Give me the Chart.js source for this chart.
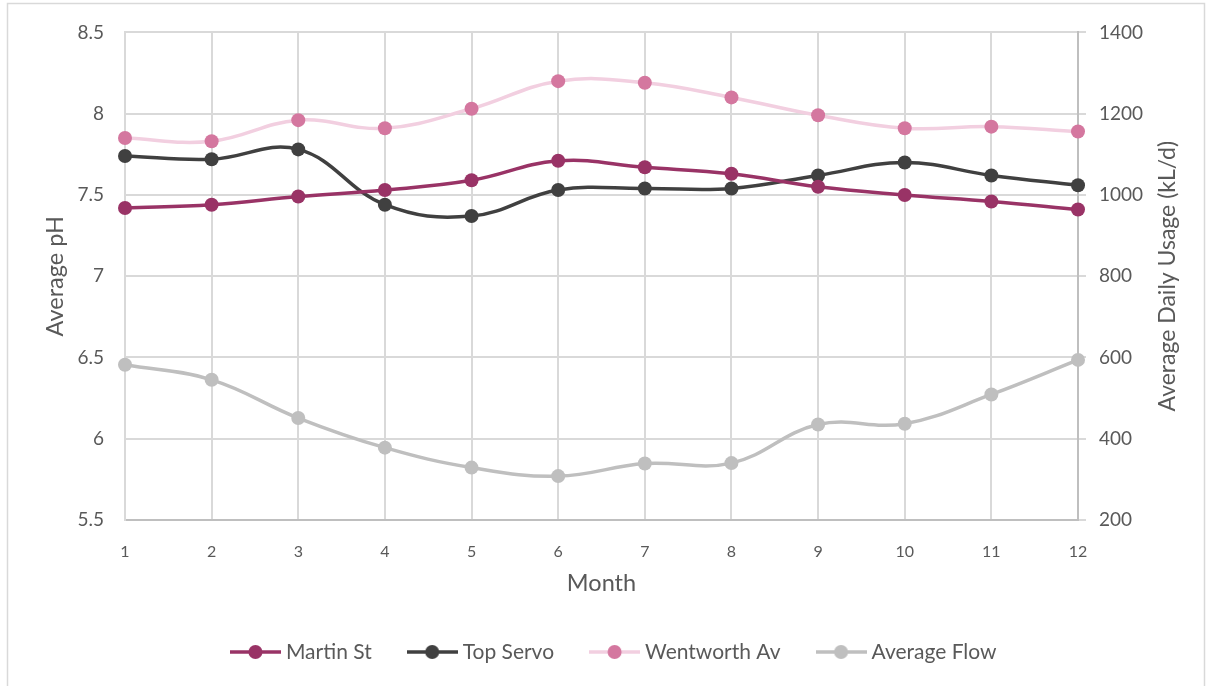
<!DOCTYPE html>
<html>
<head>
<meta charset="utf-8">
<script src="https://cdn.jsdelivr.net/npm/chart.js@4/dist/chart.umd.min.js"></script>
<style>
  html, body { margin: 0; padding: 0; background: #ffffff; }
  #wrap { position: relative; width: 1206px; height: 686px; }
</style>
</head>
<body>
<div id="wrap"><canvas id="chart" width="1206" height="686"></canvas></div>
<script>
// Monthly water quality and usage
const months = ['1', '2', '3', '4', '5', '6', '7', '8', '9', '10', '11', '12'];
const martinSt    = [7.42, 7.44, 7.49, 7.53, 7.59, 7.71, 7.67, 7.63, 7.55, 7.50, 7.46, 7.41];
const topServo    = [7.74, 7.72, 7.78, 7.44, 7.37, 7.53, 7.54, 7.54, 7.62, 7.70, 7.62, 7.56];
const wentworthAv = [7.85, 7.83, 7.96, 7.91, 8.03, 8.20, 8.19, 8.10, 7.99, 7.91, 7.92, 7.89];
const averageFlow = [582, 545, 451, 378, 329, 308, 339, 340, 435, 437, 509, 594];

// Axis ranges
const phRange   = [5.5, 8.5];
const phStep    = 0.5;
const flowRange = [200, 1400];
const flowStep  = 200;

const FONT = 'Lato';
const TEXT = '#595959';
const GRID = '#d9d9d9';
const AXIS = '#bfbfbf';

// Legend swatch: a short line with a dot in the middle
function swatch(lineColor, dotColor) {
  const c = document.createElement('canvas');
  c.width = 51; c.height = 16;
  const g = c.getContext('2d');
  g.strokeStyle = lineColor; g.lineWidth = 3.5;
  g.beginPath(); g.moveTo(0, 8); g.lineTo(51, 8); g.stroke();
  g.fillStyle = dotColor;
  g.beginPath(); g.arc(25.5, 8, 7, 0, Math.PI * 2); g.fill();
  return c;
}

const styles = [
  { line: '#993366', dot: '#993366' },
  { line: '#404040', dot: '#404040' },
  { line: '#f2cfe0', dot: '#d4779f' },
  { line: '#bfbfbf', dot: '#bfbfbf' }
];
const swatches = styles.map(s => swatch(s.line, s.dot));

function series(label, data, style, axis) {
  return {
    label, data, yAxisID: axis,
    borderColor: style.line, backgroundColor: style.dot,
    pointBackgroundColor: style.dot, pointBorderWidth: 0,
    pointRadius: 7, pointHoverRadius: 7, pointStyle: 'circle',
    borderWidth: 3.5, tension: 0.4, fill: false
  };
}

// Fixed legend band height
const legendBand = {
  id: 'legendBand',
  beforeInit(chart) {
    const fit = chart.legend.fit;
    chart.legend.fit = function () { fit.call(this); this.height = 85; };
  }
};

// Outer frame and the right-hand axis title (reads bottom to top)
const decorations = {
  id: 'decorations',
  afterDraw(chart) {
    const ctx = chart.ctx;
    const area = chart.chartArea;
    ctx.save();
    ctx.strokeStyle = GRID; ctx.lineWidth = 1.5;
    ctx.strokeRect(7.5, 3.5, 1197, 700);
    ctx.translate(1168, (area.top + area.bottom) / 2);
    ctx.rotate(-Math.PI / 2);
    ctx.fillStyle = TEXT;
    ctx.font = `23px ${FONT}`;
    ctx.textAlign = 'center';
    ctx.textBaseline = 'middle';
    ctx.fillText('Average Daily Usage (kL/d)', 0, 0);
    ctx.restore();
  }
};

new Chart(document.getElementById('chart'), {
  type: 'line',
  data: {
    labels: months,
    datasets: [
      series('Martin St', martinSt, styles[0], 'y'),
      series('Top Servo', topServo, styles[1], 'y'),
      series('Wentworth Av', wentworthAv, styles[2], 'y'),
      series('Average Flow', averageFlow, styles[3], 'y1')
    ]
  },
  options: {
    responsive: false,
    animation: false,
    devicePixelRatio: 1,
    layout: { padding: { top: 31, left: 26, right: 0, bottom: 0 } },
    plugins: {
      tooltip: { enabled: false },
      legend: {
        position: 'bottom',
        labels: {
          usePointStyle: true,
          pointStyleWidth: 40,
          boxHeight: 16,
          padding: 40.5,
          color: TEXT,
          font: { family: FONT, size: 21 },
          generateLabels(chart) {
            const items = Chart.defaults.plugins.legend.labels.generateLabels(chart);
            items.forEach((it, i) => { it.pointStyle = swatches[i]; it.lineWidth = 0; });
            return items;
          }
        }
      }
    },
    scales: {
      x: {
        type: 'category',
        offset: false,
        grid: { color: GRID, lineWidth: 2, drawTicks: false },
        border: { color: AXIS, width: 2 },
        ticks: { color: TEXT, font: { family: FONT, size: 16 }, padding: 22, maxRotation: 0 },
        title: { display: true, text: 'Month', color: TEXT, font: { family: FONT, size: 23.5 }, padding: { top: 0, bottom: 3 } },
        afterFit(s) { s.height = 81; }
      },
      y: {
        position: 'left',
        min: phRange[0], max: phRange[1],
        grid: { color: GRID, lineWidth: 2, drawTicks: false },
        border: { color: GRID, width: 2 },
        ticks: {
          stepSize: phStep, color: TEXT, font: { family: FONT, size: 19 }, padding: 21,
          callback: v => String(Number(v.toFixed(1)))
        },
        title: { display: true, text: 'Average pH', color: TEXT, font: { family: FONT, size: 23.5 }, padding: { top: 15, bottom: 0 } },
        afterFit(s) { s.width = 99; }
      },
      y1: {
        position: 'right',
        min: flowRange[0], max: flowRange[1],
        grid: { drawOnChartArea: false, color: GRID, lineWidth: 2, drawTicks: true, tickLength: 8 },
        border: { color: AXIS, width: 2 },
        ticks: {
          stepSize: flowStep, color: TEXT, font: { family: FONT, size: 19 }, padding: 13,
          callback: v => String(v)
        },
        afterFit(s) { s.width = 128; }
      }
    }
  },
  plugins: [legendBand, decorations]
});
</script>
</body>
</html>
